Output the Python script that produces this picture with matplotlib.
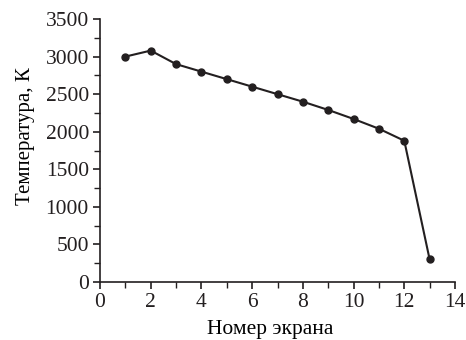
import matplotlib
matplotlib.use("Agg")
import matplotlib.pyplot as plt
from matplotlib.ticker import MultipleLocator

# Данные
screen_no = [1, 2, 3, 4, 5, 6, 7, 8, 9, 10, 11, 12, 13]
temperature = [3000, 3080, 2900, 2800, 2700, 2600, 2500, 2400, 2290, 2170, 2040, 1880, 300]

plt.rcParams['font.family'] = ['Liberation Serif', 'DejaVu Serif']
plt.rcParams['font.size'] = 15.5

fig = plt.figure(figsize=(4.66, 3.4), dpi=100)
ax = fig.add_axes([0.2146, 0.1706, 0.7618, 0.7734])

ax.plot(screen_no, temperature, color='#231f20', linewidth=1.5,
        marker='o', markersize=5)

ax.set_xlim(0, 14)
ax.set_ylim(0, 3500)
ax.xaxis.set_major_locator(MultipleLocator(2))
ax.xaxis.set_minor_locator(MultipleLocator(1))
ax.yaxis.set_major_locator(MultipleLocator(500))
ax.yaxis.set_minor_locator(MultipleLocator(250))

ax.spines['top'].set_visible(False)
ax.spines['right'].set_visible(False)
for s in ['left', 'bottom']:
    ax.spines[s].set_linewidth(1.2)
    ax.spines[s].set_color('#231f20')

ax.tick_params(which='major', length=5, width=1.2, colors='#231f20', pad=3)
ax.tick_params(which='minor', length=4, width=1.0, colors='#231f20')

ax.set_xlabel('Номер экрана', fontsize=15.5)
ax.set_ylabel('Температура, К', fontsize=15)
ax.xaxis.set_label_coords(0.479, -0.144)
ax.yaxis.set_label_coords(-0.184, 0.555)

fig.savefig('out.png', dpi=100)
